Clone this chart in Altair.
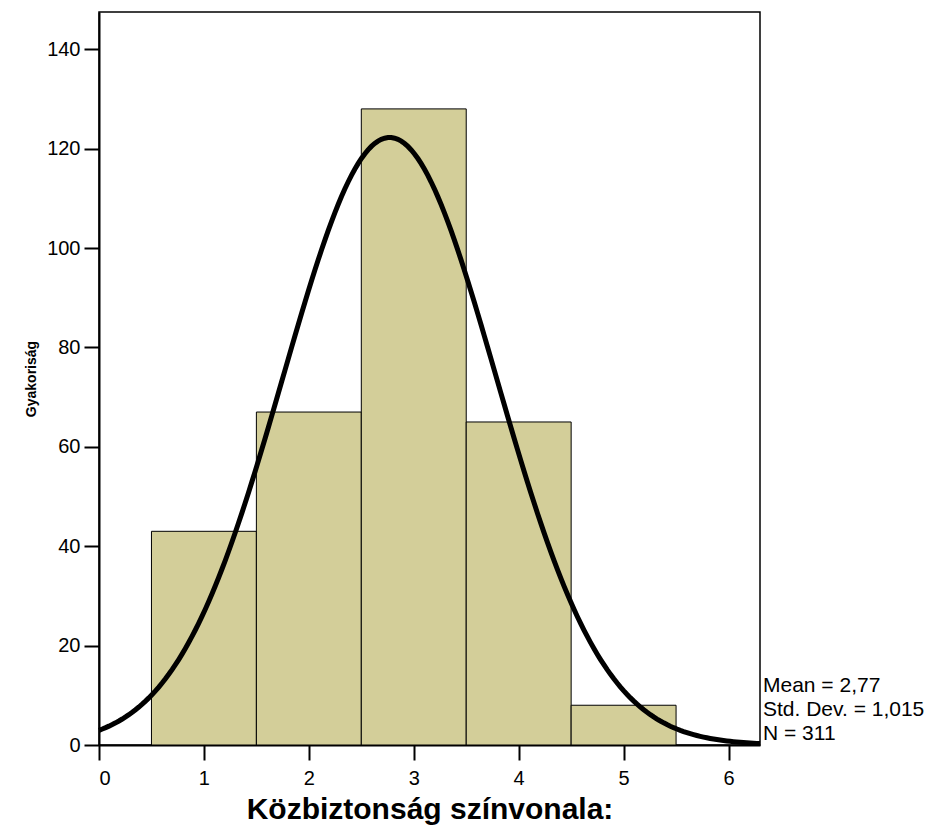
import altair as alt
import pandas as pd
import numpy as np

# Histogram data
bin_start = [0.5, 1.5, 2.5, 3.5, 4.5]
bin_end = [1.5, 2.5, 3.5, 4.5, 5.5]
counts = [43, 67, 128, 65, 8]

# Summary statistics (shown on chart)
mean = 2.77
sd = 1.015
n = 311
stats_lines = ["Mean = 2,77", "Std. Dev. = 1,015", "N = 311"]

x_ticks = [0, 1, 2, 3, 4, 5, 6]
y_ticks = [0, 20, 40, 60, 80, 100, 120, 140]

bars_df = pd.DataFrame({"x0": bin_start, "x1": bin_end, "count": counts})

# Normal curve fitted from the stated mean, sd and N (bin width 1)
xs = np.linspace(0, 6.3, 200)
ys = n * 1.0 / (sd * np.sqrt(2 * np.pi)) * np.exp(-0.5 * ((xs - mean) / sd) ** 2)
curve_df = pd.DataFrame({"x": xs, "y": ys})

W, H = 661, 733
xscale = alt.Scale(domain=[0, 6.3], nice=False, zero=False)
yscale = alt.Scale(domain=[0, 147.5], nice=False)

bars = alt.Chart(bars_df).mark_rect(
    fill="#D3CE99", stroke="#000000", strokeWidth=1
).encode(
    x=alt.X("x0:Q", scale=xscale,
            axis=alt.Axis(values=x_ticks, title="Közbiztonság színvonala:", format="d",
                          grid=False, domain=True, domainColor="black", domainWidth=2,
                          tickColor="black", tickWidth=2, tickSize=15,
                          labelFontSize=20, labelFont="Liberation Sans", labelColor="black",
                          labelPadding=8,
                          titleFont="Liberation Sans", titleFontSize=30, titleFontWeight="bold",
                          titleColor="black", titlePadding=6)),
    x2="x1:Q",
    y=alt.Y("count:Q", scale=yscale,
            axis=alt.Axis(values=y_ticks, title="Gyakoriság", format="d",
                          grid=False, domain=True, domainColor="black", domainWidth=2,
                          tickColor="black", tickWidth=2, tickSize=15,
                          labelFontSize=20, labelFont="Liberation Sans", labelColor="black",
                          labelPadding=4,
                          titleFont="Liberation Sans", titleFontSize=14, titleFontWeight="bold",
                          titleColor="black", titlePadding=8)),
    y2=alt.datum(0),
)

curve = alt.Chart(curve_df).mark_line(color="black", strokeWidth=5).encode(
    x=alt.X("x:Q", scale=xscale),
    y=alt.Y("y:Q", scale=yscale),
)

stats = alt.Chart(pd.DataFrame({"t": ["\n".join(stats_lines)]})).mark_text(
    align="left", baseline="top", fontSize=21, font="Liberation Sans", color="black",
    lineBreak="\n", lineHeight=24,
).encode(
    x=alt.value(W + 3),
    y=alt.value(H - 70),
    text="t:N",
)

chart = alt.layer(bars, curve, stats).properties(
    width=W, height=H,
    autosize=alt.AutoSizeParams(type="none"),
    padding={"left": 91, "top": 4, "right": 171, "bottom": 81},
).configure_view(stroke="black", strokeWidth=1.5)

chart.save("out.html", embed_options={"renderer": "svg", "actions": False})
